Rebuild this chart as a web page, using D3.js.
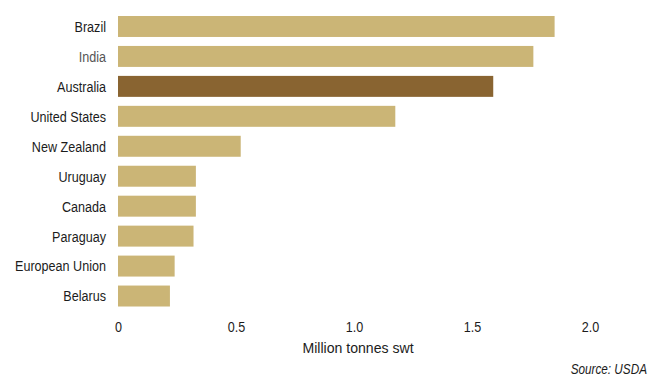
<!DOCTYPE html>
<html>
<head>
<meta charset="utf-8">
<script src="https://cdn.jsdelivr.net/npm/d3@7"></script>
<style>
  body { margin: 0; background: #fff; }
  svg { display: block; font-family: "Liberation Sans", Arial, sans-serif; }
</style>
</head>
<body>
<svg id="chart" width="650" height="376"></svg>
<script>
const countries = ['Brazil', 'India', 'Australia', 'United States', 'New Zealand',
  'Uruguay', 'Canada', 'Paraguay', 'European Union', 'Belarus'];
const exports = [1.85, 1.76, 1.59, 1.175, 0.52, 0.33, 0.33, 0.32, 0.24, 0.22];
const highlight = 'Australia';
const xTicks = [0, 0.5, 1.0, 1.5, 2.0];

// no condensed face installed, so squeeze the regular one
const narrow = 'scale(0.84,1)';

const data = countries.map((c, i) => ({ country: c, value: exports[i] }));

const svg = d3.select('#chart');

const x = d3.scaleLinear()
  .domain([0, 2])
  .range([118, 590]);

const y = d3.scaleBand()
  .domain(countries)
  .range([11.5, 311])
  .paddingInner(0.3)
  .paddingOuter(0.15);

// bars
svg.append('g')
  .selectAll('rect')
  .data(data)
  .join('rect')
  .attr('x', x(0))
  .attr('y', d => y(d.country))
  .attr('width', d => x(d.value) - x(0))
  .attr('height', y.bandwidth())
  .attr('fill', d => d.country === highlight ? '#896431' : '#cbb576');

// category labels
svg.append('g')
  .selectAll('text')
  .data(data)
  .join('text')
  .attr('transform', d => `translate(106,${y(d.country) + y.bandwidth() / 2})${narrow}`)
  .attr('dy', '0.36em')
  .attr('text-anchor', 'end')
  .attr('font-size', 15)
  .attr('fill', d => d.country === 'India' ? '#555' : '#1c1c1c')
  .text(d => d.country);

// x axis
const xAxis = svg.append('g')
  .attr('transform', 'translate(0,311)')
  .call(d3.axisBottom(x)
    .tickValues(xTicks)
    .tickFormat(d => d === 0 ? '0' : d3.format('.1f')(d))
    .tickSize(0)
    .tickPadding(10));

xAxis.select('.domain').remove();
xAxis.selectAll('text')
  .attr('font-size', 15)
  .attr('font-family', null)
  .attr('fill', '#1c1c1c')
  .attr('transform', narrow);

svg.append('text')
  .attr('transform', 'translate(358,353)scale(0.94,1)')
  .attr('text-anchor', 'middle')
  .attr('font-size', 15)
  .attr('fill', '#1c1c1c')
  .text('Million tonnes swt');

svg.append('text')
  .attr('transform', `translate(647,374)${narrow}`)
  .attr('text-anchor', 'end')
  .attr('font-size', 14)
  .attr('font-style', 'italic')
  .attr('fill', '#1c1c1c')
  .text('Source: USDA');
</script>
</body>
</html>
